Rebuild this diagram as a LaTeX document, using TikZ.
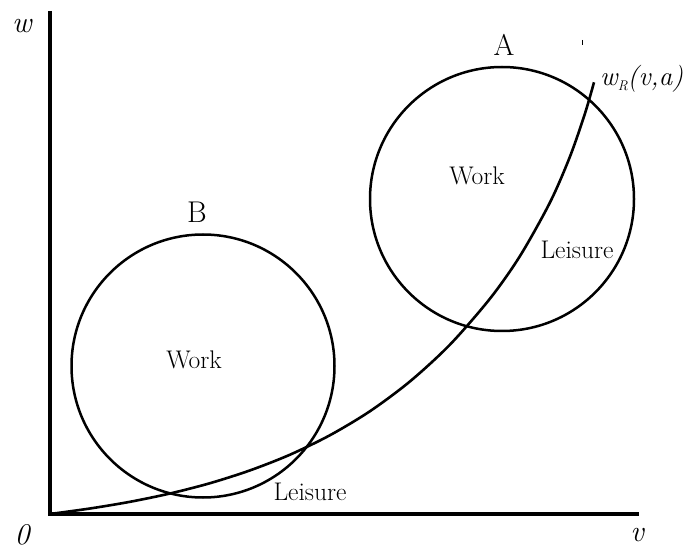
\documentclass[tikz,border=0pt]{standalone}
\usepackage{fontspec}
\begin{document}
\begin{tikzpicture}[x=1pt,y=-1pt,
  axis/.style={line width=3.4pt},
  region/.style={line width=2.5pt},
  curveline/.style={line width=2.6pt},
  lab/.style={inner sep=0pt,font=\fontsize{25.5}{28}\selectfont},
  biglab/.style={inner sep=0pt,font=\fontsize{30}{34}\selectfont},
  axlab/.style={inner sep=0pt,font=\fontsize{30}{34}\selectfont\itshape}]
\useasboundingbox (0,0) rectangle (686,548);
% axes
\coordinate (ytop) at (50,11);
\coordinate (orig) at (50,514);
\coordinate (xend) at (639,514);
\draw[axis] (ytop) -- (orig) -- (xend);
% circles
\node[region,draw,circle,minimum size=263pt,inner sep=0pt] (cB) at (203,366) {};
\node[region,draw,circle,minimum size=264pt,inner sep=0pt] (cA) at (502,199) {};
% reservation wage curve
\coordinate (cend) at (594,82.3);
\draw[curveline,line cap=butt] plot[smooth,tension=0.5] coordinates
  {(orig) (90,508.5) (130,501.8) (170,493.5) (210,483.2) (250,470.4) (290,454.7)
   (330,435.2) (370,411.2) (410,381.4) (450,344.6) (490,298.6) (520,256)
   (550,202.4) (570,156.5) (585,113.4) (cend)};
% small tick
\coordinate (tk1) at (582,40);
\coordinate (tk2) at (582,45);
\draw[line width=0.8pt] (tk1) -- (tk2);
% labels
\node[axlab] (lw) at (22,26) {w};
\node[axlab] (l0) at (22,535) {0};
\node[axlab] (lv) at (637,535) {v};
\node[biglab] (lA) at (504,45) {A};
\node[biglab] (lB) at (197,212) {B};
\node[lab] (wA) at (477,176) {Work};
\node[lab] (sA) at (577,250) {Leisure};
\node[lab] (wB) at (194,360) {Work};
\node[lab] (sB) at (310,492) {Leisure};
\node[inner sep=0pt,font=\fontsize{27}{30}\selectfont\itshape,anchor=west] (lwr) at (600,79)
  {w\raisebox{-5pt}{\fontsize{14}{16}\selectfont R}(v,a)};
\end{tikzpicture}
\end{document}
